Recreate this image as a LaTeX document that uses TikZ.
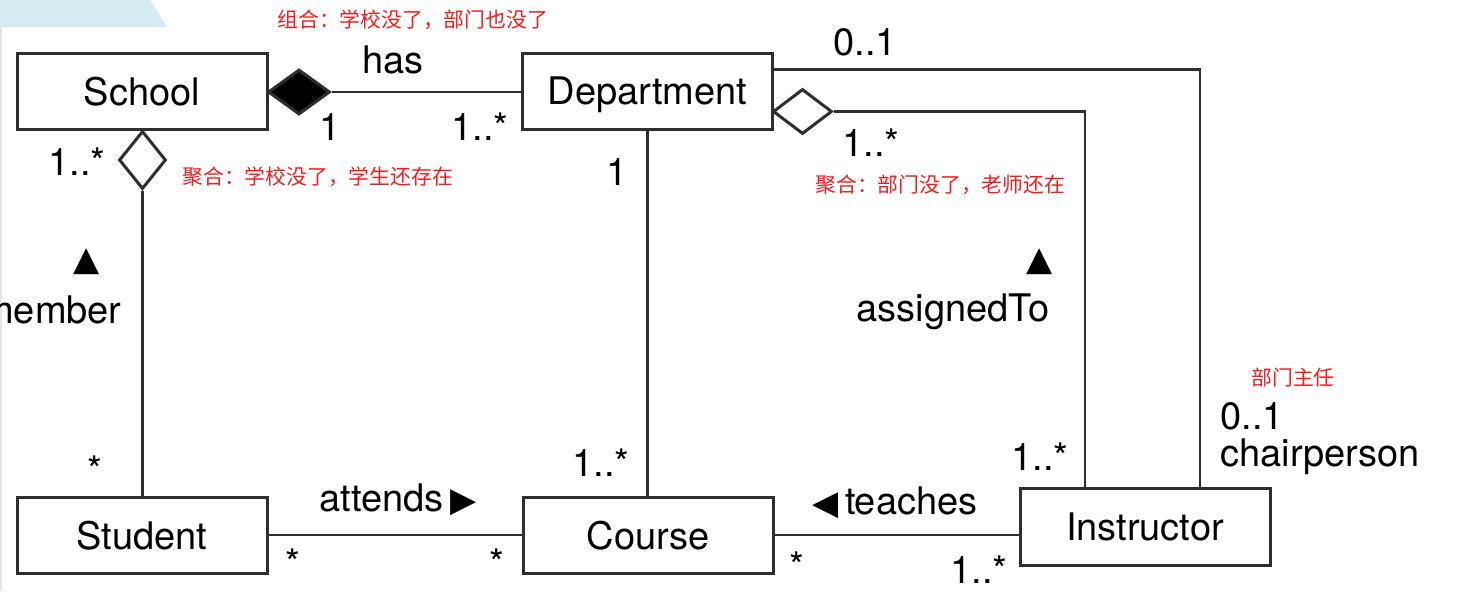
\documentclass[tikz,border=0pt]{standalone}
\usepackage{fontspec}
\setmainfont{TeX Gyre Heros}
\newfontfamily\cjk{Noto Sans CJK SC}
\newfontfamily\symb{DejaVu Sans}
\usepackage{tikz}
\usetikzlibrary{shapes.geometric}
\definecolor{linegray}{HTML}{2E2E2E}
\definecolor{notered}{HTML}{F51C1C}
\definecolor{bandblue}{HTML}{D5ECF3}
\newcommand{\umlfont}{\fontsize{19}{22}\selectfont}
\newcommand{\tri}[1]{{\symb\fontsize{17}{20}\selectfont #1}}

\begin{document}
\begin{tikzpicture}[x=0.5pt, y=-0.5pt,
	classbox/.style={draw=linegray, line width=1.5pt, minimum width=125pt, minimum height=38pt, inner sep=0pt, text depth=0pt, font=\umlfont},
	assoc/.style={draw=linegray, line width=1.2pt},
	mult/.style={font=\umlfont, inner sep=0pt},
	note/.style={font=\cjk\fontsize{10.4}{12}\selectfont, text=notered, inner sep=0pt, anchor=west},
	agg/.style={diamond, draw=linegray, line width=1.5pt, inner sep=0pt, fill=white}]
	\useasboundingbox (0,0) rectangle (1471,591);
	\fill[bandblue] (0,0) -- (150,0) -- (167,27) -- (0,27) -- cycle;
	\draw[gray!20, line width=1pt] (1,27) -- (1,591);

	% classes
	\node[classbox] (school) at (142,91.5) {School};
	\node[classbox] (dept) at (647.5,91) {Department};
	\node[classbox] (student) at (142,535) {Student};
	\node[classbox] (course) at (648,535) {Course};
	\node[classbox, minimum height=38.5pt] (instructor) at (1145,526.5) {Instructor};

	% diamonds
	\node[agg, fill=black, minimum width=31pt, minimum height=22.5pt] (comp) at (299,92) {};
	\node[agg, minimum width=23.5pt, minimum height=29pt] (aggSchool) at (142.5,160) {};
	\node[agg, minimum width=29.5pt, minimum height=22.5pt] (aggDept) at (802.5,111.5) {};
	\coordinate (assignTop) at ([xshift=-30pt]instructor.north);
	\coordinate (chairTop) at ([xshift=27.5pt]instructor.north);

	\draw[assoc] (comp.east) -- (comp.east -| dept.west);
	\draw[assoc] (aggSchool.south) -- (aggSchool.south |- student.north);
	\draw[assoc] (dept.south) -- (dept.south |- course.north);
	\draw[assoc] (student.east) -- (course.west);
	\draw[assoc] (course.east) -- (course.east -| instructor.west);
	\draw[assoc] (aggDept.east) -| (assignTop);
	\draw[assoc] ([yshift=-9pt]dept.north east) -| (chairTop);

	% labels
	\node[mult] (hasLbl) at (393,60) {has};
	\node[mult] (m1) at (330,127) {1};
	\node[mult] (m2) at (480,127) {1..*};
	\node[mult] (m3) at (865,42) {0..1};
	\node[mult] (m4) at (871,143) {1..*};
	\node[mult] (m5) at (617,172) {1};
	\node[mult] (m6) at (601,463) {1..*};
	\node[mult] (m7) at (77,162) {1..*};
	\node[mult] (memTri) at (87,262) {\tri{▲}};
	\node[mult, anchor=east] (memLbl) at (122,310) {member};
	\node[mult] (m8) at (95,470) {*};
	\node[mult] (attLbl) at (398,500) {attends\,\tri{▶}};
	\node[mult] (m9) at (293,563) {*};
	\node[mult] (m10) at (497,563) {*};
	\node[mult] (teachLbl) at (895,503) {\tri{◀}\,teaches};
	\node[mult] (m11) at (797,566) {*};
	\node[mult] (m12) at (979,570) {1..*};
	\node[mult] (m13) at (1040,457) {1..*};
	\node[mult] (asgTri) at (1040,262) {\tri{▲}};
	\node[mult] (asgLbl) at (953,312) {assignedTo};
	\node[mult, anchor=west] (m14) at (1220,416) {0..1};
	\node[mult, anchor=west] (chairLbl) at (1220,457) {chairperson};

	% notes
	\node[note] (noteComp) at (277,20) {组合：学校没了，部门也没了};
	\node[note] (noteSchool) at (182,177) {聚合：学校没了，学生还存在};
	\node[note] (noteDept) at (815,185) {聚合：部门没了，老师还在};
	\node[note] (noteChair) at (1251,378) {部门主任};
\end{tikzpicture}
\end{document}
